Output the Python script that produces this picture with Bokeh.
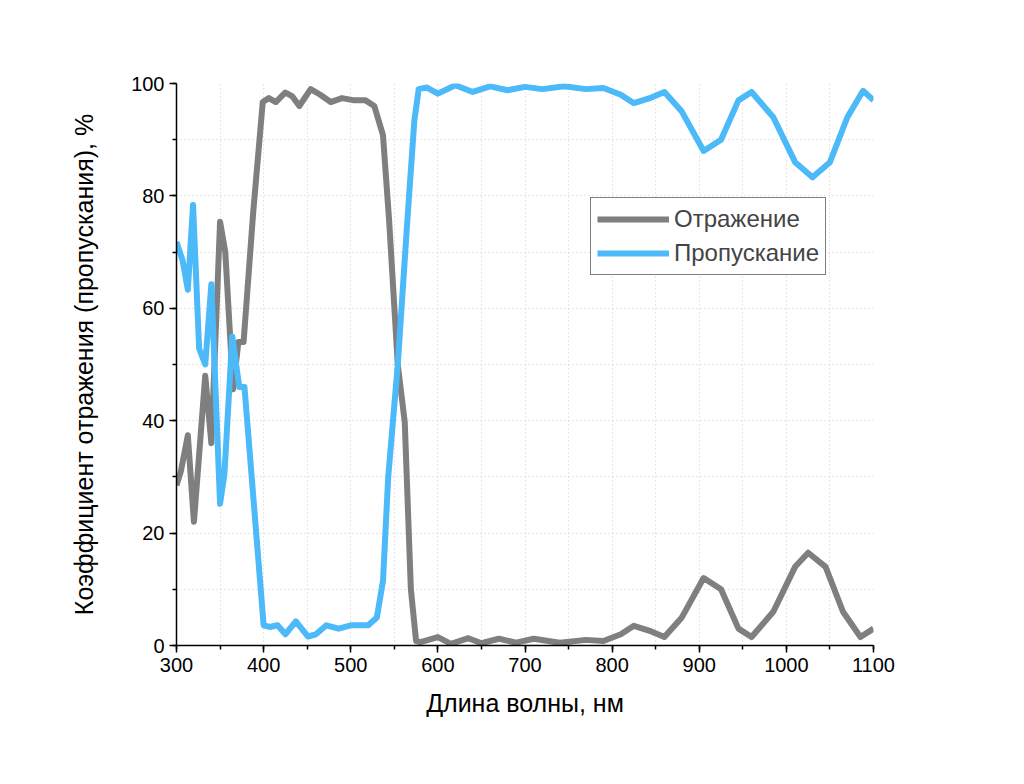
from bokeh.plotting import figure
from bokeh.models import Range1d, FixedTicker, Legend, LegendItem
from bokeh.embed import file_html
from bokeh.resources import INLINE

wl_r = [300, 305, 313, 320, 333, 340, 350, 356, 365, 371, 377, 388, 399, 406, 414, 425, 433, 441, 454, 465, 477, 490, 504, 517, 527, 537, 544, 554, 562, 569, 575,
        580, 600, 615, 635, 650, 670, 690, 710, 740, 770, 790, 810, 825, 845, 860, 880, 905, 925, 945, 960, 985, 1010, 1025, 1045, 1065, 1085, 1100]
refl = [28.5, 31, 37.4, 22, 48, 36, 75.4, 70, 45.6, 54, 54, 77, 96.7, 97.4, 96.7, 98.4, 97.7, 96, 99, 98, 96.7, 97.4, 97, 97, 96, 90.8, 75.7, 50, 39.7, 10, 0.8,
        0.6, 1.5, 0.3, 1.3, 0.4, 1.2, 0.5, 1.2, 0.5, 1.0, 0.8, 2, 3.5, 2.5, 1.5, 5, 12, 10, 3, 1.5, 6, 14, 16.5, 14, 6, 1.5, 3]

wl_t = [300, 307, 313, 319, 326, 333, 340, 350, 355, 364, 372, 378, 400, 407, 416, 425, 437, 451, 460, 472, 486, 500, 520, 530, 537, 543, 554, 565, 573, 578, 587,
        600, 620, 640, 660, 680, 700, 720, 745, 770, 790, 810, 825, 845, 860, 880, 905, 925, 945, 960, 985, 1010, 1030, 1050, 1070, 1088, 1100]
trans = [71.8, 68.5, 63.3, 78.4, 52.8, 50, 64.3, 25.2, 30.5, 55, 46, 46, 3.6, 3.3, 3.6, 2, 4.3, 1.6, 2, 3.6, 3, 3.6, 3.6, 5, 11.5, 30, 50, 75.7, 93.4, 99, 99.3,
         98.2, 99.7, 98.5, 99.5, 98.8, 99.4, 99, 99.5, 99, 99.2, 98, 96.5, 97.5, 98.5, 95, 88, 90, 97, 98.5, 94, 86, 83.3, 86, 94, 98.7, 97]

x_ticks = [300, 400, 500, 600, 700, 800, 900, 1000, 1100]
y_ticks = [0, 20, 40, 60, 80, 100]

FONT = "Liberation Sans"
p = figure(output_backend="svg", toolbar_location=None,
           frame_width=697, frame_height=562,
           min_border_left=176, min_border_top=83, min_border_right=127, min_border_bottom=115,
           x_range=Range1d(300, 1100), y_range=Range1d(0, 100))
p.outline_line_color = None
l1 = p.line(wl_r, refl, line_color="#7f7f7f", line_width=6, line_join="round")
l2 = p.line(wl_t, trans, line_color="#4cb9f8", line_width=6, line_join="round")

for ax in (p.xaxis[0], p.yaxis[0]):
    ax.axis_line_width = 1.5
    ax.major_tick_line_width = 1.5
    ax.minor_tick_line_width = 1.5
    ax.major_tick_out = 7
    ax.major_tick_in = 0
    ax.minor_tick_out = 4
    ax.minor_tick_in = 0
    ax.major_label_text_font = FONT
    ax.major_label_text_font_size = "20px"
    ax.major_label_text_color = "black"
    ax.axis_label_text_font = FONT
    ax.axis_label_text_font_size = "25px"
    ax.axis_label_text_font_style = "normal"
    ax.axis_label_text_color = "black"
p.yaxis.axis_label_standoff = 30
p.xaxis.axis_label_standoff = 14

p.xaxis.ticker = FixedTicker(ticks=x_ticks, minor_ticks=list(range(300, 1101, 50)))
p.yaxis.ticker = FixedTicker(ticks=y_ticks, minor_ticks=list(range(0, 101, 10)))
p.xaxis.axis_label = "Длина волны, нм"
p.yaxis.axis_label = "Коэффициент отражения (пропускания), %"
p.xgrid.ticker = FixedTicker(ticks=list(range(350, 1100, 50)))
p.ygrid.ticker = FixedTicker(ticks=list(range(10, 100, 10)))
for g in (p.xgrid[0], p.ygrid[0]):
    g.grid_line_color = "#cccccc"
    g.grid_line_dash = "1 3"
    g.grid_line_width = 1

legend = Legend(items=[LegendItem(label="Отражение", renderers=[l1]),
                       LegendItem(label="Пропускание", renderers=[l2])],
                location=(414, 370))
legend.label_text_font = FONT
legend.label_text_font_size = "24px"
legend.border_line_color = "black"
legend.border_line_width = 1
legend.glyph_width = 72
legend.label_height = 30
legend.spacing = 4
legend.padding = 6
legend.margin = 0
legend.background_fill_alpha = 1
p.add_layout(legend, "center")

open("out.html", "w").write(file_html(p, INLINE))
